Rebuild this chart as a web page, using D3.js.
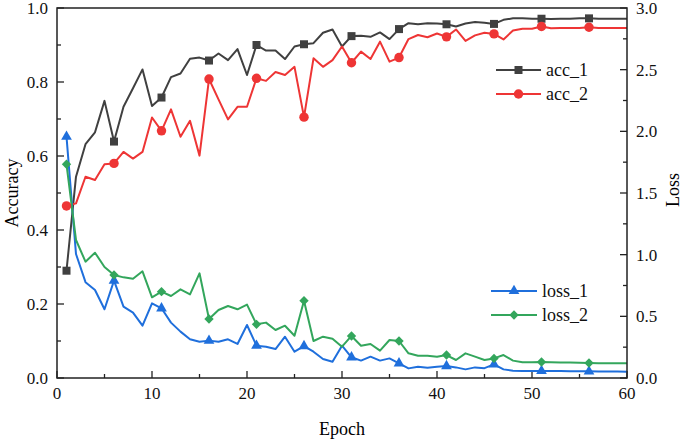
<!DOCTYPE html>
<html>
<head>
<meta charset="utf-8">
<script src="https://cdn.jsdelivr.net/npm/d3@7"></script>
<style>
  html, body { margin: 0; padding: 0; background: #fff; }
  svg { display: block; font-family: "Liberation Serif", "Times New Roman", serif; }
</style>
</head>
<body>
<svg id="chart" width="685" height="441"></svg>
<script>
const epochs = d3.range(1, 61);
const acc1 = [0.29,0.544,0.632,0.664,0.749,0.639,0.733,0.783,0.834,0.735,0.758,0.813,0.823,0.863,0.866,0.858,0.877,0.859,0.889,0.819,0.9,0.885,0.885,0.862,0.896,0.902,0.905,0.933,0.942,0.896,0.924,0.925,0.922,0.934,0.916,0.943,0.959,0.956,0.959,0.958,0.956,0.950,0.958,0.962,0.960,0.957,0.968,0.972,0.972,0.971,0.971,0.970,0.971,0.971,0.972,0.972,0.971,0.971,0.971,0.971];
const acc2 = [0.465,0.472,0.544,0.535,0.578,0.580,0.611,0.593,0.611,0.704,0.668,0.726,0.652,0.695,0.601,0.808,0.753,0.699,0.733,0.733,0.810,0.803,0.827,0.819,0.841,0.705,0.864,0.841,0.859,0.896,0.852,0.882,0.862,0.909,0.855,0.866,0.916,0.927,0.921,0.931,0.922,0.942,0.911,0.926,0.933,0.930,0.915,0.939,0.944,0.944,0.950,0.945,0.946,0.946,0.946,0.948,0.946,0.946,0.946,0.946];
const loss1 = [1.957,1.005,0.777,0.714,0.557,0.789,0.578,0.530,0.424,0.605,0.565,0.449,0.376,0.314,0.294,0.303,0.294,0.314,0.276,0.430,0.262,0.254,0.235,0.335,0.213,0.259,0.213,0.154,0.132,0.262,0.168,0.141,0.173,0.141,0.159,0.119,0.078,0.092,0.084,0.092,0.097,0.086,0.070,0.086,0.080,0.111,0.070,0.059,0.057,0.057,0.057,0.057,0.056,0.055,0.055,0.054,0.053,0.052,0.052,0.051];
const loss2 = [1.733,1.119,0.943,1.016,0.900,0.835,0.816,0.805,0.865,0.654,0.700,0.665,0.719,0.678,0.849,0.478,0.551,0.584,0.557,0.595,0.435,0.449,0.389,0.424,0.343,0.627,0.300,0.335,0.319,0.254,0.341,0.262,0.276,0.222,0.308,0.300,0.200,0.181,0.181,0.173,0.186,0.146,0.200,0.173,0.146,0.159,0.186,0.141,0.127,0.127,0.130,0.127,0.125,0.125,0.124,0.122,0.120,0.120,0.119,0.119];
const xTicks = [0,10,20,30,40,50,60];
const accTicks = [0.0,0.2,0.4,0.6,0.8,1.0];
const lossTicks = [0.0,0.5,1.0,1.5,2.0,2.5,3.0];
const markerEpochs = [1,6,11,16,21,26,31,36,41,46,51,56];

const svg = d3.select("#chart");
const L = 57, R = 627, T = 8, B = 378;
const x = d3.scaleLinear().domain([0, 60]).range([L, R]);
const yA = d3.scaleLinear().domain([0, 1]).range([B, T]);
const yL = d3.scaleLinear().domain([0, 3]).range([B, T]);

const series = [
  {name: "acc_1", data: acc1, y: yA, color: "#404040", sym: d3.symbolSquare, size: 64, rot: 0, leg: [496, 541, 70]},
  {name: "acc_2", data: acc2, y: yA, color: "#ee3535", sym: d3.symbolCircle, size: 70, rot: 0, leg: [496, 541, 94]},
  {name: "loss_1", data: loss1, y: yL, color: "#1f6fdc", sym: d3.symbolTriangle, size: 50, rot: 0, leg: [491, 537, 291]},
  {name: "loss_2", data: loss2, y: yL, color: "#33a65c", sym: d3.symbolSquare, size: 44, rot: 45, leg: [491, 537, 315]}
];

const tickLen = 7, minorLen = 4;
const axes = svg.append("g").attr("stroke", "#222").attr("stroke-width", 1.3);
d3.range(0, 61, 5).forEach(v => {
  const len = v % 10 === 0 ? tickLen : minorLen;
  axes.append("line").attr("x1", x(v)).attr("x2", x(v)).attr("y1", B).attr("y2", B - len);
});
d3.range(0, 11).forEach(i => {
  const v = i / 10;
  const len = i % 2 === 0 ? tickLen : minorLen;
  axes.append("line").attr("x1", L).attr("x2", L + len).attr("y1", yA(v)).attr("y2", yA(v));
});
d3.range(0, 13).forEach(i => {
  const v = i * 0.25;
  const len = i % 2 === 0 ? tickLen : minorLen;
  axes.append("line").attr("x1", R).attr("x2", R - len).attr("y1", yL(v)).attr("y2", yL(v));
});

series.forEach(s => {
  const line = d3.line().x((d, i) => x(epochs[i])).y(d => s.y(d));
  svg.append("path").datum(s.data).attr("d", line)
    .attr("fill", "none").attr("stroke", s.color).attr("stroke-width", 2)
    .attr("stroke-linejoin", "round");
});
series.forEach(s => {
  const sym = d3.symbol().type(s.sym).size(s.size);
  svg.append("g").selectAll("path").data(markerEpochs).join("path")
    .attr("d", sym)
    .attr("transform", e => `translate(${x(e)},${s.y(s.data[e - 1])}) rotate(${s.rot})`)
    .attr("fill", s.color);
});

svg.append("rect").attr("x", L).attr("y", T).attr("width", R - L).attr("height", B - T)
  .attr("fill", "none").attr("stroke", "#222").attr("stroke-width", 1.5);

const tl = svg.append("g").attr("font-size", 17).attr("fill", "#111");
xTicks.forEach(v => tl.append("text").attr("x", x(v)).attr("y", 399).attr("text-anchor", "middle").text(v));
accTicks.forEach(v => tl.append("text").attr("x", 48).attr("y", yA(v) + 6).attr("text-anchor", "end").text(v.toFixed(1)));
lossTicks.forEach(v => tl.append("text").attr("x", 636).attr("y", yL(v) + 6).attr("text-anchor", "start").text(v.toFixed(1)));

svg.append("text").attr("x", 342).attr("y", 435).attr("text-anchor", "middle").attr("font-size", 18).text("Epoch");
svg.append("text").attr("transform", "translate(18,193) rotate(-90)").attr("text-anchor", "middle").attr("font-size", 18).text("Accuracy");
svg.append("text").attr("transform", "translate(679,190) rotate(-90)").attr("text-anchor", "middle").attr("font-size", 18).text("Loss");

series.forEach(s => {
  const [x1, x2, ly] = s.leg;
  const g = svg.append("g");
  g.append("line").attr("x1", x1).attr("x2", x2).attr("y1", ly).attr("y2", ly).attr("stroke", s.color).attr("stroke-width", 2);
  g.append("path").attr("d", d3.symbol().type(s.sym).size(s.size)())
    .attr("transform", `translate(${(x1 + x2) / 2},${ly}) rotate(${s.rot})`).attr("fill", s.color);
  g.append("text").attr("x", x2 + 5).attr("y", ly + 6).attr("font-size", 18).attr("fill", "#111").text(s.name);
});
</script>
</body>
</html>
